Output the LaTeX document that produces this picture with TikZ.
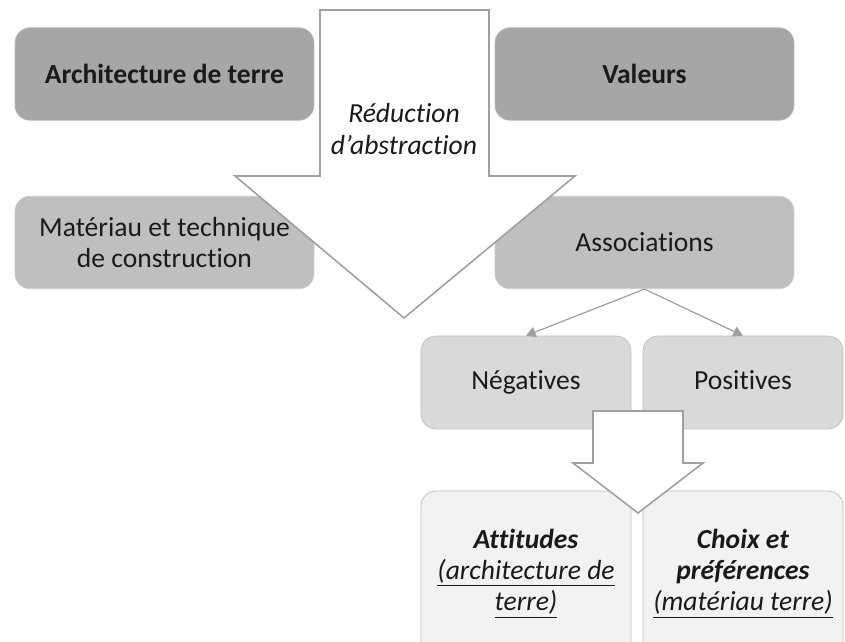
\documentclass[tikz,border=0pt]{standalone}
\usepackage{fontspec}
\setmainfont[Ligatures=CommonOff]{Carlito}
\usepackage{tikz}
\usetikzlibrary{arrows.meta,positioning}
\definecolor{boxdark}{HTML}{A6A6A6}
\definecolor{boxmid}{HTML}{BFBFBF}
\definecolor{boxlight}{HTML}{D9D9D9}
\definecolor{boxpale}{HTML}{F2F2F2}
\definecolor{edgegray}{HTML}{A0A0A0}
\definecolor{inkgray}{HTML}{1A1A1A}

\begin{document}
\begin{tikzpicture}[
  x=0.02cm, y=-0.02cm,
  font=\fontsize{15.7}{17.8}\selectfont, text=inkgray,
  level/.style={
    rounded corners=0.3cm, align=center, inner sep=4pt,
    minimum height=1.85cm, minimum width=5.98cm, fill=boxdark, draw=boxdark!80!white, line width=0.4pt
  },
  sublevel/.style={level, fill=boxmid, draw=boxmid!80!white},
  branch/.style={
    rounded corners=0.3cm, align=center, inner sep=4pt, text height=2.0ex, text depth=0.3ex,
    minimum height=1.86cm, minimum width=4.2cm, fill=boxlight, draw=boxmid, line width=0.4pt
  },
  outcome/.style={branch, text height=, text depth=, minimum height=4.2cm, fill=boxpale},
  abstractarrow/.style={draw=edgegray, fill=white, line width=0.9pt, line join=miter},
  link/.style={-{Triangle[length=5.5pt,width=6pt]}, draw=edgegray, line width=0.7pt}
]
\useasboundingbox (0,0) rectangle (845,642);

\node[level] (arch) at (164.5,74) {\textbf{Architecture de terre}};
\node[level] (val) at (644.5,74) {\textbf{Valeurs}};
\node[sublevel] (mat) at (164.5,242.5) {Matériau et technique\\de construction};
\node[sublevel] (assoc) at (644.5,242.5) {Associations};

\node[branch] (neg) at (526,382.5) {Négatives};
\node[branch, minimum width=4.0cm] (pos) at (743,382.5) {Positives};
\draw[link] (assoc.south) -- (neg.north);
\draw[link] (assoc.south) -- (pos.north);

\node[outcome] (att) at (526,596) {};
\node[outcome, minimum width=4.0cm] (choice) at (743,596) {};
\node[align=center, below=0.64cm of att.north] (attTxt)
  {\textbf{\textit{Attitudes}}\\\textit{\underline{(architecture de}}\\\textit{\underline{terre)}}};
\node[align=center, below=0.64cm of choice.north] (choiceTxt)
  {\textbf{\textit{Choix et}}\\\textbf{\textit{préférences}}\\\textit{\underline{(matériau terre)}}};

\draw[abstractarrow] (320,10) -- (489,10) -- (489,176) -- (575,176) -- (404,318)
  -- (235,176) -- (320,176) -- cycle;
\node[align=center] (reduc) at (404,129) {\textit{Réduction}\\\textit{d’abstraction}};

\draw[abstractarrow] (593,411) -- (683,411) -- (683,463) -- (703,463) -- (638,513)
  -- (573,463) -- (593,463) -- cycle;
\end{tikzpicture}
\end{document}
